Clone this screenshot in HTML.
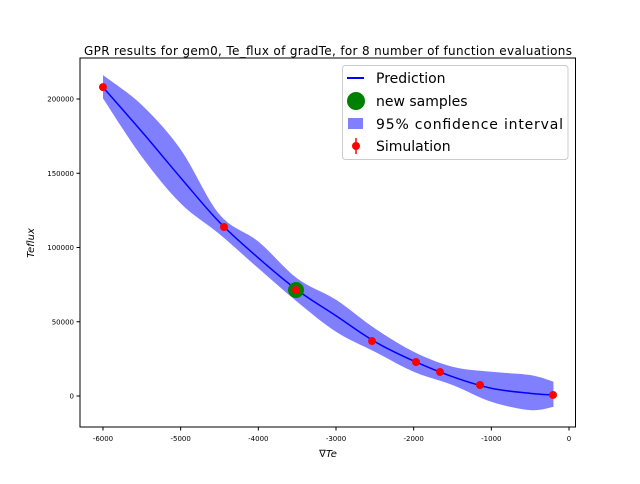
<!DOCTYPE html>
<html><head><meta charset="utf-8"><style>
body{margin:0;background:#fff;font-family:"DejaVu Sans","Liberation Sans",sans-serif}
</style></head><body>
<svg id="chart" width="640" height="480" viewBox="0 0 640 480" xmlns="http://www.w3.org/2000/svg" font-family="DejaVu Sans, Liberation Sans, sans-serif">
<rect width="640" height="480" fill="#fff"/>
<text x="328" y="55" text-anchor="middle" font-size="12" textLength="488">GPR results for gem0, Te_flux of gradTe, for 8 number of function evaluations</text>
<g id="plot"></g>
<rect x="80" y="58" width="495.5" height="369" fill="none" stroke="#000" stroke-width="1"/>
<text x="328" y="457" text-anchor="middle" font-size="10">∇<tspan font-style="italic">Te</tspan></text>
<text transform="translate(34,243) rotate(-90)" text-anchor="middle" font-size="10" font-style="italic">Teflux</text>
<g>
<rect x="342.5" y="65.5" width="225.5" height="94" rx="3" fill="#fff" fill-opacity="0.8" stroke="#ccc"/>
<line x1="347" y1="78" x2="364" y2="78" stroke="#0000ff" stroke-width="2"/>
<text x="376" y="83" font-size="14">Prediction</text>
<circle cx="356" cy="101" r="9" fill="#008000"/>
<text x="376" y="106" font-size="14">new samples</text>
<rect x="348" y="118" width="15" height="11" fill="#8080ff"/>
<text x="376" y="129" font-size="14" textLength="187">95% confidence interval</text>
<line x1="356" y1="138" x2="356" y2="154" stroke="#ff0000" stroke-width="1.5"/>
<circle cx="356" cy="146" r="4" fill="#ff0000"/>
<text x="376" y="151" font-size="14">Simulation</text>
</g>
</svg>
<script>
const gridX=[-6000,-5500,-5000,-4500,-4000,-3500,-3000,-2500,-2000,-1500,-1000,-500,-200];
const meanY=[207900,178000,147000,117000,93000,71400,54000,36600,23600,13000,5200,1800,700];
const upperY=[216100,196000,166000,122300,104000,79200,64800,45500,29800,19700,16300,14100,9600];
const lowerY=[200400,161100,129700,109000,86000,63500,43300,29800,16300,7400,-3900,-9500,-7300];
const simX=[-6000,-4442,-3515,-2536,-1970,-1661,-1146,-206];
const simY=[208000,113800,71400,37000,22900,16200,7400,700];
const newX=[-3515];
const newY=[71400];
const xTicks=[-6000,-5000,-4000,-3000,-2000,-1000,0];
const yTicks=[0,50000,100000,150000,200000];

const sx=v=>569+v*0.07767;
const sy=v=>396-v*297/200000;
const NS="http://www.w3.org/2000/svg";
const plot=document.getElementById('plot');
function mk(tag,attrs){const e=document.createElementNS(NS,tag);for(const k in attrs)e.setAttribute(k,attrs[k]);plot.appendChild(e);return e;}
function smooth(pts){let d=`M${pts[0][0]},${pts[0][1]}`;for(let i=0;i<pts.length-1;i++){const p0=pts[Math.max(i-1,0)],p1=pts[i],p2=pts[i+1],p3=pts[Math.min(i+2,pts.length-1)];
const c1=[p1[0]+(p2[0]-p0[0])/6,p1[1]+(p2[1]-p0[1])/6],c2=[p2[0]-(p3[0]-p1[0])/6,p2[1]-(p3[1]-p1[1])/6];d+=` C${c1[0]},${c1[1]} ${c2[0]},${c2[1]} ${p2[0]},${p2[1]}`;}return d;}
const up=gridX.map((x,i)=>[sx(x),sy(upperY[i])]);
const lo=gridX.map((x,i)=>[sx(x),sy(lowerY[i])]).reverse();
let band=mk('path',{d:smooth(up)+' L'+smooth(lo).slice(1)+' Z',fill:'#8080ff',stroke:'none'});


let line=mk('path',{d:smooth(gridX.map((x,i)=>[sx(x),sy(meanY[i])])),fill:'none',stroke:'#0000ff','stroke-width':1.5});


newX.forEach((x,i)=>{const c=mk('circle',{cx:sx(x),cy:sy(newY[i]),r:8,fill:'#008000'});

});
simX.forEach((x,i)=>{const c=mk('circle',{cx:sx(x),cy:sy(simY[i]),r:4,fill:'#ff0000'});

});
xTicks.forEach(t=>{const x=sx(t);mk('line',{x1:x,y1:427,x2:x,y2:430.5,stroke:'#000'});
const tx=mk('text',{x:x,y:441,'text-anchor':'middle','font-size':7});tx.textContent=String(t);

});
yTicks.forEach(t=>{const y=sy(t);mk('line',{x1:76.5,y1:y,x2:80,y2:y,stroke:'#000'});
const tx=mk('text',{x:74,y:y+2.5,'text-anchor':'end','font-size':7});tx.textContent=String(t);

});
</script>
</body></html>
